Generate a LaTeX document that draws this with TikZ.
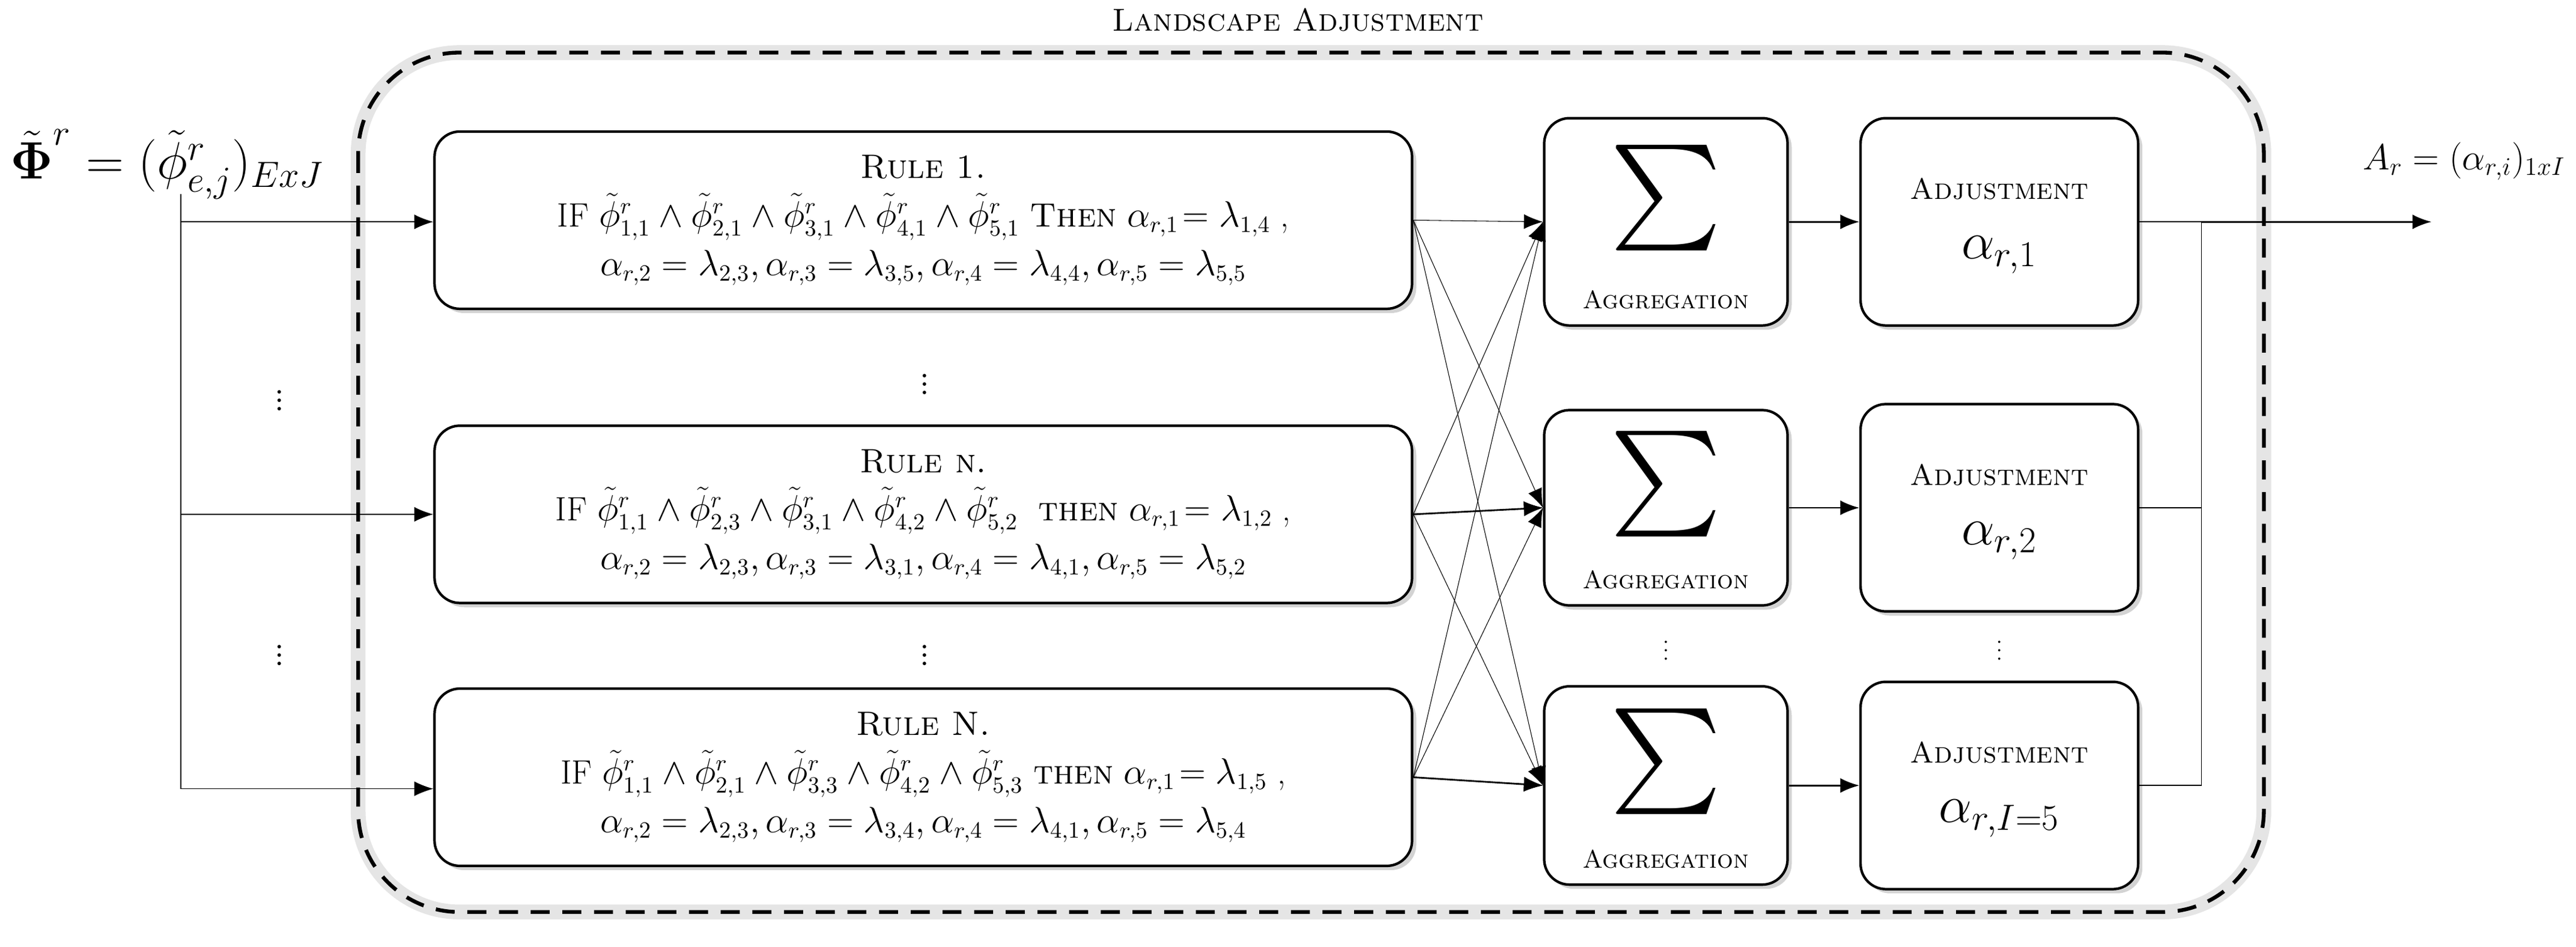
\documentclass[tikz,border=0pt]{standalone}
\usepackage{amsmath,amssymb}
\usetikzlibrary{arrows.meta,shadows}
\begin{document}
\begin{tikzpicture}[x=0.02735cm,y=-0.02735cm,
  box/.style={draw,very thick,rounded corners=12pt,fill=white,drop shadow={opacity=0.35,shadow xshift=2pt,shadow yshift=-2pt}},
  rule/.style={box,align=center,minimum width=16.27cm,minimum height=2.95cm,font=\fontsize{16}{23}\selectfont},
  arr/.style={-{Latex[length=9pt,width=7pt]}}]
\useasboundingbox (0,0) rectangle (1568,576);
\node[font=\fontsize{15}{16}\selectfont] (title) at (790,12) {\textsc{Landscape Adjustment}};
% frame
\draw[line width=7pt,gray!20,rounded corners=48pt] (218,32) rectangle (1378,555);
\draw[line width=1.8pt,dash pattern=on 9pt off 6pt,rounded corners=48pt] (218,32) rectangle (1378,555);
% rule boxes
\node[rule] (r1) at (562,134)
 {\textsc{Rule 1.}\\ IF $\tilde\phi^r_{1,1}\wedge\tilde\phi^r_{2,1}\wedge\tilde\phi^r_{3,1}\wedge\tilde\phi^r_{4,1}\wedge\tilde\phi^r_{5,1}$ \textsc{Then} $\alpha_{r,1}\!=\lambda_{1,4}$ ,\\ $\alpha_{r,2}=\lambda_{2,3},\alpha_{r,3}=\lambda_{3,5},\alpha_{r,4}=\lambda_{4,4},\alpha_{r,5}=\lambda_{5,5}$};
\node[rule] (r2) at (562,313)
 {\textsc{Rule n.}\\ IF $\tilde\phi^r_{1,1}\wedge\tilde\phi^r_{2,3}\wedge\tilde\phi^r_{3,1}\wedge\tilde\phi^r_{4,2}\wedge\tilde\phi^r_{5,2}$ \ \textsc{then} $\alpha_{r,1}\!=\lambda_{1,2}$ ,\\ $\alpha_{r,2}=\lambda_{2,3},\alpha_{r,3}=\lambda_{3,1},\alpha_{r,4}=\lambda_{4,1},\alpha_{r,5}=\lambda_{5,2}$};
\node[rule] (r3) at (562,473)
 {\textsc{Rule N.}\\ IF $\tilde\phi^r_{1,1}\wedge\tilde\phi^r_{2,1}\wedge\tilde\phi^r_{3,3}\wedge\tilde\phi^r_{4,2}\wedge\tilde\phi^r_{5,3}$ \textsc{then} $\alpha_{r,1}\!=\lambda_{1,5}$ ,\\ $\alpha_{r,2}=\lambda_{2,3},\alpha_{r,3}=\lambda_{3,4},\alpha_{r,4}=\lambda_{4,1},\alpha_{r,5}=\lambda_{5,4}$};
% sum boxes
\foreach \n/\y/\h in {1/135/3.45,2/309/3.25,3/478/3.3}{
 \node[box,minimum width=4.05cm,minimum height=\h cm] (s\n) at (1014,\y) {};
 \node[font=\fontsize{50}{50}\selectfont] (sg\n) at ([yshift=0.4cm]s\n.center) {$\sum$};
 \node[font=\fontsize{12}{14}\selectfont] (sl\n) at ([yshift=0.45cm]s\n.south) {\textsc{Aggregation}};
}
% adjustment boxes
\foreach \n/\y/\s in {1/135/1,2/309/2,3/478/I=5}{
 \node[box,minimum width=4.62cm,minimum height=3.45cm] (a\n) at (1217,\y) {};
 \node[font=\fontsize{14}{16}\selectfont] (at\n) at ([yshift=0.55cm]a\n.center) {\textsc{Adjustment}};
 \node[font=\fontsize{26}{28}\selectfont] (am\n) at ([yshift=-0.55cm]a\n.center) {$\alpha_{r,\s}$};
}
% labels
\node[font=\fontsize{24}{26}\selectfont,anchor=west] (phi) at (2,100) {$\tilde{\boldsymbol\Phi}^r=(\tilde\phi^r_{e,j})_{ExJ}$};
\node[font=\fontsize{17}{20}\selectfont,anchor=east] (ar) at (1566,98) {$A_r=(\alpha_{r,i})_{1xI}$};
% inputs
\coordinate (in0) at (110,118);
\coordinate (in1) at (110,135);
\coordinate (in2) at (110,313);
\coordinate (in3) at (110,480);
\draw[thin] (in0) -- (in3);
\draw[arr] (in1) -- (in1 -| r1.west);
\draw[arr] (in2) -- (in2 -| r2.west);
\draw[arr] (in3) -- (in3 -| r3.west);
% dots
\foreach \x/\y [count=\i] in {170/240,170/395,563/230,563/395}{\node[font=\fontsize{20}{20}\selectfont] (d\i) at (\x,\y) {$\vdots$};}
\node (d5) at (1014,392) {$\vdots$};
\node (d6) at (1217,392) {$\vdots$};
% crossings
\foreach \i in {1,2,3}{\foreach \j in {1,2,3}{
  \draw[arr,line width=0.3pt] (r\i.east) -- (s\j.west);}}
\draw[arr,thick] (r2.east) -- (s2.west);
\draw[arr,thick] (r3.east) -- (s3.west);
\foreach \j in {1,2,3}{\draw[arr,thick] (s\j.east) -- (a\j.west);}
% output
\coordinate (oj) at (1340,135);
\coordinate (oe) at (1480,135);
\draw[thin] (a1.east) -- (oj);
\draw[thin] (a2.east) -- (a2.east -| oj);
\draw[thin] (a3.east) -- (a3.east -| oj) -- (oj);
\draw[arr,thick] (oj) -- (oe);
\end{tikzpicture}
\end{document}
